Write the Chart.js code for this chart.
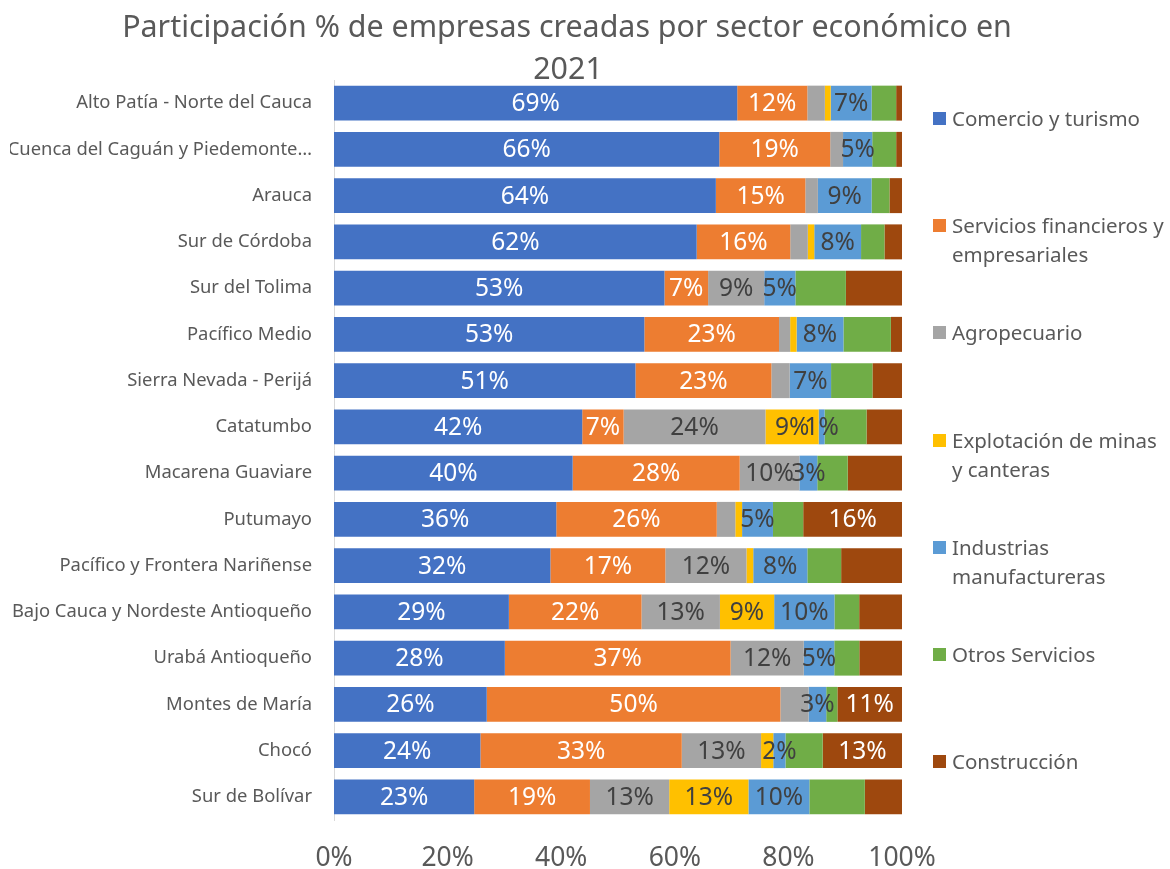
<!DOCTYPE html>
<html>
<head>
<meta charset="utf-8">
<script src="https://cdn.jsdelivr.net/npm/chart.js@4.4.1/dist/chart.umd.min.js"></script>
<style>
  html, body { margin: 0; padding: 0; background: #fff; }
  #wrap { position: relative; width: 1170px; height: 869px; }
  #legend { position: absolute; left: 933px; top: 0; font-family: "Noto Sans"; font-size: 20.5px; color: #595959; }
  .item { position: absolute; left: 0; width: 238px; display: flex; align-items: flex-start; line-height: 29px; }
  .sw { width: 13px; height: 13px; margin: 8px 6px 0 0; flex: none; }
</style>
</head>
<body>
<div id="wrap">
  <canvas id="chart" width="1170" height="869"></canvas>
  <div id="legend"></div>
</div>
<script>
// regions, top to bottom
const regions = [
  'Alto Patía - Norte del Cauca',
  'Cuenca del Caguán y Piedemonte…',
  'Arauca',
  'Sur de Córdoba',
  'Sur del Tolima',
  'Pacífico Medio',
  'Sierra Nevada - Perijá',
  'Catatumbo',
  'Macarena Guaviare',
  'Putumayo',
  'Pacífico y Frontera Nariñense',
  'Bajo Cauca y Nordeste Antioqueño',
  'Urabá Antioqueño',
  'Montes de María',
  'Chocó',
  'Sur de Bolívar',
];

// % of firms per sector (unlabelled pieces)
const comercio      = [69, 66, 64, 62, 53, 53, 51, 42, 40, 36, 32, 29, 28, 26, 24, 23];
const financieros   = [12, 19, 15, 16, 7, 23, 23, 7, 28, 26, 17, 22, 37, 50, 33, 19];
const agropecuario  = [3.0, 2.2, 2.1, 3.0, 9, 1.9, 3.1, 24, 10, 3.0, 12, 13, 12, 4.8, 13, 13];
const minas         = [1.0, 0, 0, 1.1, 0, 1.1, 0, 9, 0, 1.1, 1.0, 9, 0, 0, 2.0, 13];
const industrias    = [7, 5, 9, 8, 5, 8, 7, 1, 3, 5, 8, 10, 5, 3, 2, 10];
const otros         = [4.2, 4.1, 3.0, 4.0, 8.1, 8.1, 7.0, 7.1, 5.1, 4.9, 5.0, 4.1, 4.1, 1.9, 6.1, 9.1];
const construccion  = [1.0, 1.0, 2.1, 3.0, 9.0, 1.9, 5.0, 6.0, 9.1, 16, 9.0, 7.1, 7.0, 11, 13, 6.1];

const seriesNames = [
  'Comercio y turismo',
  'Servicios financieros y empresariales',
  'Agropecuario',
  'Explotación de minas y canteras',
  'Industrias manufactureras',
  'Otros Servicios',
  'Construcción',
];
const seriesValues = [comercio, financieros, agropecuario, minas, industrias, otros, construccion];

const xTicks = [0, 20, 40, 60, 80, 100];

const colors = ['#4472C4', '#ED7D31', '#A5A5A5', '#FFC000', '#5B9BD5', '#70AD47', '#9E480E'];
const labelColors = ['#fff', '#fff', '#404040', '#404040', '#404040', '#404040', '#fff'];
// smallest value that gets a data label, per series
const labelMin = [0, 0, 8, 5, 0, Infinity, 10];

const FONT = '"Noto Sans"';
const GREY = '#595959';

// 100% stacked: each row scaled to its own total
const totals = regions.map((_, i) => seriesValues.reduce((s, arr) => s + arr[i], 0));

const datasets = seriesNames.map((name, k) => ({
  label: name,
  data: seriesValues[k].map((v, i) => v / totals[i] * 100),
  raw: seriesValues[k],
  backgroundColor: colors[k],
  borderWidth: 0,
  barPercentage: 0.756,
  categoryPercentage: 1,
}));

const barLabels = {
  id: 'barLabels',
  afterDatasetsDraw(chart) {
    const ctx = chart.ctx;
    ctx.save();
    ctx.font = `24.5px ${FONT}`;
    ctx.textAlign = 'center';
    ctx.textBaseline = 'middle';
    chart.data.datasets.forEach((ds, di) => {
      const meta = chart.getDatasetMeta(di);
      meta.data.forEach((bar, i) => {
        const v = ds.raw[i];
        if (!(v > 0 && v >= labelMin[di])) return;
        ctx.fillStyle = labelColors[di];
        ctx.fillText(Math.round(v) + '%', (bar.x + bar.base) / 2, bar.y + 1);
      });
    });
    ctx.restore();
  },
};

const titleText = {
  id: 'titleText',
  afterDraw(chart) {
    const ctx = chart.ctx;
    ctx.save();
    ctx.font = `30.4px ${FONT}`;
    ctx.fillStyle = GREY;
    ctx.textAlign = 'center';
    ctx.textBaseline = 'middle';
    ctx.fillText('Participación % de empresas creadas por sector económico en', 567, 28);
    ctx.fillText('2021', 568, 70);
    ctx.restore();
  },
};

new Chart(document.getElementById('chart'), {
  type: 'bar',
  data: { labels: regions, datasets },
  options: {
    indexAxis: 'y',
    responsive: false,
    animation: false,
    layout: { padding: { top: 80, right: 268, left: 10, bottom: 0 } },
    plugins: {
      legend: { display: false },
      tooltip: { enabled: false },
    },
    scales: {
      x: {
        stacked: true,
        min: 0,
        max: 100,
        afterBuildTicks(scale) {
          scale.ticks = xTicks.map((v) => ({ value: v }));
        },
        afterFit(scale) {
          scale.height = 49;
        },
        ticks: {
          callback: (v) => v + '%',
          color: GREY,
          font: { family: FONT, size: 26.5 },
          padding: 23,
          maxRotation: 0,
        },
        grid: { display: false, drawTicks: false },
        border: { display: false },
      },
      y: {
        stacked: true,
        afterFit(scale) {
          scale.width = 324;
        },
        ticks: {
          color: GREY,
          font: { family: FONT, size: 18.4 },
          padding: 22,
          autoSkip: false,
        },
        grid: { display: false, drawTicks: false },
        border: { display: true, color: '#d9d9d9', width: 1 },
      },
    },
  },
  plugins: [barLabels, titleText],
});

// legend on the right, one slot per series
const legendEl = document.getElementById('legend');
seriesNames.forEach((name, k) => {
  const item = document.createElement('div');
  item.className = 'item';
  item.style.top = (104 + k * 107.2) + 'px';
  item.innerHTML = `<span class="sw" style="background:${colors[k]}"></span><span>${name}</span>`;
  legendEl.appendChild(item);
});
</script>
</body>
</html>
